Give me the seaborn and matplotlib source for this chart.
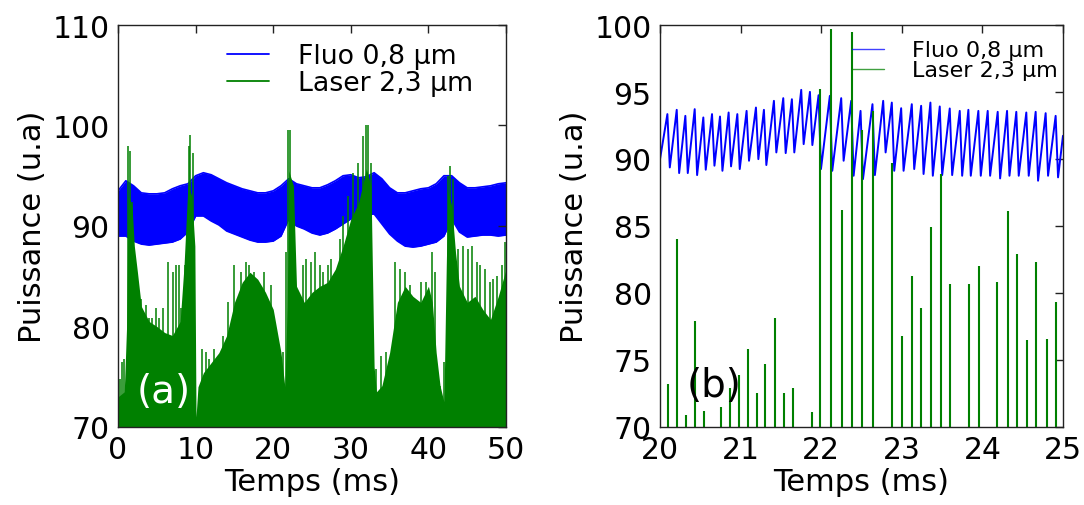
import matplotlib
matplotlib.use("Agg")
import matplotlib.pyplot as plt
from matplotlib.lines import Line2D
import numpy as np
import pandas as pd
import seaborn as sns

# ---------------- Panel (a) data ----------------
a_band_t = list(range(0, 51))
a_fluo_upper = [93.5, 94.5, 94.0, 93.3, 93.2, 93.2, 93.3, 93.7, 94.0, 94.2,
                95.0, 95.3, 95.1, 94.7, 94.3, 94.0, 93.7, 93.5, 93.3, 93.3,
                93.5, 94.0, 94.7, 94.2, 94.0, 93.8, 93.8, 94.1, 94.5, 95.0,
                95.1, 94.8, 94.9, 95.3, 94.7, 93.8, 93.3, 93.3, 93.5, 93.7,
                93.8, 94.2, 95.0, 95.0, 94.3, 93.8, 93.8, 93.9, 94.0, 94.2, 94.3]
a_fluo_lower = [89.0, 89.0, 88.5, 88.2, 88.1, 88.2, 88.3, 88.4, 88.7, 89.4,
                91.0, 91.0, 90.5, 90.1, 89.5, 89.2, 88.9, 88.6, 88.4, 88.4,
                88.5, 89.0, 90.7, 90.0, 89.7, 89.3, 89.1, 89.3, 89.7, 90.2,
                90.7, 90.9, 91.1, 91.2, 90.2, 89.2, 88.5, 88.0, 87.9, 88.0,
                88.2, 88.4, 89.0, 90.7, 89.4, 88.9, 89.0, 89.1, 89.1, 89.0, 89.1]

a_laser_floor_t = [0.0, 0.8, 1.1, 1.3, 1.8, 2.1, 2.5, 3.0, 4.0, 5.0, 6.0, 7.0,
                   8.0, 8.5, 9.0, 9.5, 9.9, 10.05, 10.3, 11.0, 12.0, 13.0, 14.0,
                   15.0, 16.0, 17.0, 18.0, 19.0, 20.0, 21.0, 21.5, 21.8, 22.0,
                   22.6, 23.0, 24.0, 25.0, 26.0, 27.0, 28.0, 29.0, 30.0, 31.0,
                   32.0, 32.6, 33.0, 33.3, 34.0, 35.0, 36.0, 37.0, 38.0, 39.0,
                   40.0, 40.5, 41.0, 41.5, 42.0, 42.3, 42.5, 43.0, 43.5, 44.0,
                   45.0, 46.0, 47.0, 48.0, 49.0, 50.0]
a_laser_floor = [73.0, 73.5, 80.0, 93.0, 92.0, 88.0, 85.4, 82.0, 80.5, 80.0,
                 79.4, 79.1, 80.5, 86.0, 94.0, 93.0, 88.0, 71.0, 74.0, 75.4,
                 76.4, 77.4, 79.1, 82.4, 84.4, 85.4, 84.7, 83.4, 81.7, 77.4,
                 74.0, 82.0, 95.5, 94.0, 84.0, 82.4, 83.4, 84.0, 84.4, 85.7,
                 88.0, 90.7, 92.3, 95.7, 94.0, 76.0, 73.5, 74.1, 77.4, 82.4,
                 84.0, 83.0, 82.4, 84.0, 82.4, 77.4, 74.1, 72.5, 86.0, 93.5,
                 92.0, 87.3, 84.0, 82.4, 83.0, 81.7, 80.7, 83.0, 85.7]

a_spike_t = [0.26, 0.56, 0.78, 1.29, 1.51, 1.77, 2.20, 2.93, 3.23, 3.66, 4.01,
             4.44, 4.87, 5.30, 5.73, 6.50, 7.02, 7.45, 7.88, 8.10, 8.66, 9.09,
             9.30, 9.60, 10.81, 11.33, 11.76, 12.40, 13.48, 14.13, 15.00, 15.85,
             16.49, 16.93, 17.57, 18.22, 18.86, 19.72, 21.23, 21.66, 21.96,
             22.22, 22.74, 23.17, 23.82, 24.25, 24.89, 25.32, 25.97, 26.40,
             27.05, 27.48, 28.55, 28.98, 29.63, 30.28, 30.92, 31.57, 32.00,
             32.26, 32.64, 33.29, 33.94, 34.58, 35.66, 36.31, 36.95, 37.60,
             38.24, 39.10, 39.75, 40.40, 40.83, 41.47, 42.03, 42.55, 42.76,
             43.19, 43.84, 44.49, 45.13, 45.56, 46.21, 46.64, 47.29, 47.93,
             48.36, 48.79, 49.44, 49.87]
a_spike_h = [74.8, 76.5, 76.8, 98.0, 97.5, 92.4, 85.4, 82.7, 81.4, 82.1, 80.8,
             80.8, 81.8, 80.8, 81.8, 86.4, 85.4, 86.1, 86.1, 81.8, 86.1, 98.0,
             99.1, 97.3, 77.8, 77.5, 76.8, 77.8, 79.1, 82.4, 86.1, 85.4,
             86.4, 86.1, 85.4, 84.1, 85.4, 84.1, 77.5, 87.4, 99.6,
             99.6, 87.4, 82.1, 86.1, 86.7, 86.4, 87.4, 86.1, 85.4,
             86.1, 86.7, 88.7, 91.0, 93.0, 95.3, 96.3, 99.0, 100.0,
             100.0, 96.3, 75.8, 77.1, 77.5, 86.4, 85.7, 85.4, 84.1,
             79.8, 84.4, 84.4, 87.4, 85.4, 74.1, 76.5, 95.0, 96.0,
             94.7, 87.7, 88.0, 87.7, 88.0, 86.4, 86.1, 85.7, 84.4,
             84.7, 85.0, 86.1, 88.4]

# ---------------- Panel (b) data ----------------
b_fluo_t = [20.000, 20.091, 20.121, 20.207, 20.237, 20.314, 20.344, 20.430, 20.460,
            20.537, 20.567, 20.645, 20.675, 20.744, 20.774, 20.851, 20.881,
            20.959, 20.989, 21.074, 21.104, 21.190, 21.220, 21.289, 21.319,
            21.413, 21.443, 21.529, 21.559, 21.636, 21.666, 21.752, 21.782,
            21.860, 21.890, 21.967, 21.997, 22.107, 22.137, 22.248, 22.278,
            22.372, 22.402, 22.488, 22.518, 22.636, 22.666, 22.769, 22.799,
            22.876, 22.906, 22.992, 23.022, 23.124, 23.154, 23.240, 23.270,
            23.355, 23.385, 23.471, 23.501, 23.595, 23.625, 23.719, 23.749,
            23.826, 23.856, 23.950, 23.980, 24.066, 24.096, 24.190, 24.220,
            24.306, 24.336, 24.421, 24.451, 24.545, 24.575, 24.661, 24.691,
            24.785, 24.815, 24.909, 24.939, 25.000]
b_fluo_v = [90.0, 93.35, 89.37, 93.67, 88.95, 93.22, 88.95, 93.72, 88.80,
            93.10, 89.20, 93.35, 89.50, 93.17, 89.12, 93.47, 89.45,
            93.35, 89.25, 93.59, 89.87, 93.84, 89.99, 93.67, 89.55,
            94.34, 90.49, 94.54, 90.44, 94.46, 90.49, 95.16, 91.11,
            95.01, 91.04, 94.76, 89.25, 94.71, 89.12, 94.54, 89.87,
            94.34, 88.75, 93.59, 88.50, 94.09, 88.80, 94.34, 90.49,
            94.21, 89.12, 93.79, 89.12, 94.09, 89.25, 93.97, 88.88,
            94.21, 88.75, 93.92, 88.80, 93.77, 88.80, 93.59, 88.75,
            93.67, 88.75, 93.59, 88.75, 93.59, 88.75, 93.52, 88.55,
            93.59, 88.75, 93.52, 88.75, 93.47, 88.75, 93.52, 88.38,
            93.42, 88.75, 93.22, 88.63, 91.73]

b_laser_t = [20.103, 20.215, 20.326, 20.438, 20.541, 20.756, 20.868, 20.975,
             21.087, 21.198, 21.302, 21.426, 21.541, 21.653, 21.880, 21.983,
             22.124, 22.264, 22.384, 22.512, 22.645, 22.884, 23.008, 23.132,
             23.244, 23.360, 23.483, 23.603, 23.835, 23.959, 24.186, 24.314,
             24.430, 24.554, 24.669, 24.802, 24.917]
b_laser_h = [73.2, 84.0, 70.9, 77.9, 71.2, 71.5, 72.9, 73.9,
             75.8, 72.5, 74.7, 78.1, 72.5, 72.9, 71.1, 95.25,
             99.7, 86.2, 99.5, 92.2, 93.6, 89.7, 76.8, 81.3,
             78.9, 84.9, 88.9, 80.7, 80.7, 82.0, 80.8, 86.1,
             82.9, 76.5, 82.3, 76.6, 79.3]

labels = ["Fluo 0,8 µm", "Laser 2,3 µm"]
BLUE = (0, 0, 1)
GREEN = (0, 0.5, 0)

# ---------------- Figure ----------------
sns.set_style("white")
plt.rcParams['font.family'] = ['DejaVu Sans']
plt.rcParams['xtick.direction'] = 'in'
plt.rcParams['ytick.direction'] = 'in'
plt.rcParams['text.color'] = 'black'
plt.rcParams['axes.labelcolor'] = 'black'
plt.rcParams['xtick.color'] = 'black'
plt.rcParams['ytick.color'] = 'black'

fig = plt.figure(figsize=(10.84, 5.06), dpi=100)
ax1 = fig.add_axes([0.1089, 0.1542, 0.3579, 0.7944])
ax2 = fig.add_axes([0.6089, 0.1542, 0.3717, 0.7944])

# Panel (a)
ax1.fill_between(a_laser_floor_t, 70, a_laser_floor, color=GREEN, lw=0, zorder=1)
ax1.vlines(a_spike_t, 70, a_spike_h, color=GREEN, lw=1.1, zorder=2)
ax1.fill_between(a_band_t, a_fluo_lower, a_fluo_upper, color=BLUE, lw=0, zorder=0)
sns.lineplot(x=a_band_t, y=a_fluo_upper, ax=ax1, color=BLUE, lw=1.2, zorder=0)
sns.lineplot(x=a_band_t, y=a_fluo_lower, ax=ax1, color=BLUE, lw=1.2, zorder=0)
ax1.set_xlim(0, 50)
ax1.set_ylim(70, 110)
ax1.set_xticks([0, 10, 20, 30, 40, 50])
ax1.set_yticks([70, 80, 90, 100, 110])
ax1.text(0.048, 0.09, "(a)", transform=ax1.transAxes, color="white",
         fontsize=28, ha="left", va="center", zorder=5)
h1 = [Line2D([], [], color=BLUE, lw=1.3), Line2D([], [], color=GREEN, lw=1.3)]
ax1.legend(h1, labels, loc="upper left", bbox_to_anchor=(0.281, 0.955),
           frameon=False, fontsize=19.3, borderpad=0, borderaxespad=0,
           handlelength=1.55, handletextpad=1.1, labelspacing=0.05,
           labelcolor="black")

# Panel (b)
ax2.vlines(b_laser_t, 70, b_laser_h, color=GREEN, lw=1.5, zorder=2)
sns.lineplot(x=b_fluo_t, y=b_fluo_v, ax=ax2, color=BLUE, lw=1.4, sort=False,
             estimator=None, zorder=1)
ax2.set_xlim(20, 25)
ax2.set_ylim(70, 100)
ax2.set_xticks([20, 21, 22, 23, 24, 25])
ax2.set_yticks([70, 75, 80, 85, 90, 95, 100])
ax2.text(0.065, 0.105, "(b)", transform=ax2.transAxes, color="black",
         fontsize=28, ha="left", va="center", zorder=5)
h2 = [Line2D([], [], color=BLUE, lw=1.0, alpha=0.75),
      Line2D([], [], color=GREEN, lw=1.0, alpha=0.75)]
ax2.legend(h2, labels, loc="upper left", bbox_to_anchor=(0.476, 0.962),
           frameon=False, fontsize=16, borderpad=0, borderaxespad=0,
           handlelength=1.45, handletextpad=1.25, labelspacing=0.0,
           labelcolor="black")

for ax in (ax1, ax2):
    ax.set_xlabel("Temps (ms)", fontsize=22, labelpad=2, color="black")
    ax.set_ylabel("Puissance (u.a)", fontsize=22, labelpad=4, color="black")
    ax.tick_params(axis="both", which="major", labelsize=21.5, length=6,
                   width=1, direction="in", top=True, right=True, pad=6,
                   color="#222222", labelcolor="black")
    for s in ax.spines.values():
        s.set_visible(True)
        s.set_color("#222222")
        s.set_linewidth(1.0)

fig.savefig("out.png", dpi=100)
